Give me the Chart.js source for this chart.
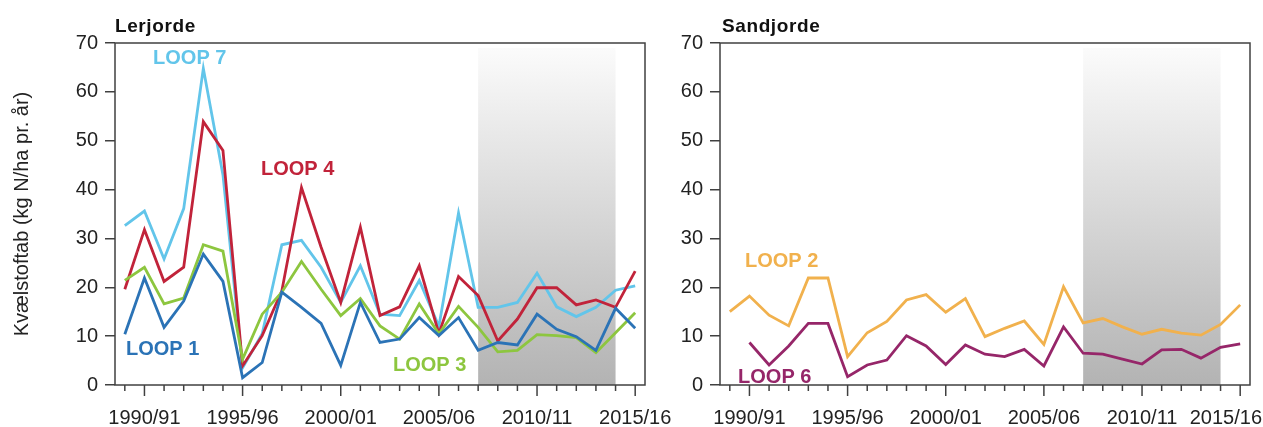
<!DOCTYPE html>
<html>
<head>
<meta charset="utf-8">
<script src="https://cdn.jsdelivr.net/npm/chart.js@4"></script>
<style>
  body { margin: 0; background: #fff; }
  #wrap { position: relative; width: 1263px; height: 427px; }
  canvas { position: absolute; top: 0; }
</style>
</head>
<body>
<div id="wrap">
  <canvas id="lerChart" width="675" height="427" style="left:0"></canvas>
  <canvas id="sandChart" width="588" height="427" style="left:675px"></canvas>
</div>
<script>
const seasons = [
    "1989/90", "1990/91", "1991/92", "1992/93", "1993/94", "1994/95", "1995/96",
    "1996/97", "1997/98", "1998/99", "1999/00", "2000/01", "2001/02", "2002/03",
    "2003/04", "2004/05", "2005/06", "2006/07", "2007/08", "2008/09", "2009/10",
    "2010/11", "2011/12", "2012/13", "2013/14", "2014/15", "2015/16"
];
const shownSeasons = ["1990/91", "1995/96", "2000/01", "2005/06", "2010/11", "2015/16"];
const yTicks = [0, 10, 20, 30, 40, 50, 60, 70];

// Lerjorde
const loop1 = [10.4, 21.9, 11.8, 17.2, 26.8, 21.2, 1.5, 4.6, 19.0, 15.9, 12.6, 4.0, 16.9, 8.7, 9.4, 13.8, 10.1, 13.8, 7.1, 8.7, 8.2, 14.5, 11.4, 9.9, 7.1, 15.7, 11.6];
const loop3 = [21.4, 24.1, 16.6, 17.8, 28.7, 27.4, 5.3, 14.5, 19.0, 25.3, 19.6, 14.2, 17.7, 12.1, 9.4, 16.6, 10.5, 16.1, 11.8, 6.8, 7.1, 10.3, 10.1, 9.7, 6.6, 10.7, 14.8];
const loop4 = [19.6, 31.8, 21.2, 24.1, 53.9, 48.0, 3.9, 10.1, 19.3, 40.4, 28.2, 16.9, 32.3, 14.2, 16.0, 24.4, 10.5, 22.2, 18.3, 9.0, 13.5, 19.9, 19.9, 16.4, 17.4, 15.9, 23.3];
const loop7 = [32.6, 35.6, 25.8, 36.1, 64.8, 43.0, 3.5, 10.5, 28.7, 29.6, 24.1, 16.9, 24.4, 14.5, 14.2, 21.4, 12.0, 35.2, 15.9, 15.9, 16.9, 22.9, 16.0, 14.0, 15.9, 19.4, 20.3];

// Sandjorde
const loop2 = [15.0, 18.2, 14.3, 12.1, 21.9, 21.9, 5.8, 10.7, 13.0, 17.4, 18.5, 14.9, 17.7, 9.9, 11.6, 13.1, 8.3, 20.1, 12.7, 13.6, 11.9, 10.4, 11.4, 10.6, 10.2, 12.4, 16.4];
const loop6 = [null, 8.7, 4.1, 8.0, 12.6, 12.6, 1.7, 4.1, 5.1, 10.1, 8.0, 4.2, 8.2, 6.3, 5.8, 7.3, 3.9, 11.9, 6.5, 6.3, 5.3, 4.3, 7.2, 7.3, 5.5, 7.7, 8.4];

// shaded period
const bandFrom = "2007/08";
const bandTo = "2014/15";

const FONT = "'Liberation Sans', Arial, sans-serif";
const FRAME = "#404040";
const TEXT = "#222";

function line(label, data, color) {
    return {
        label: label,
        data: data,
        borderColor: color,
        borderWidth: 2.8,
        pointRadius: 0,
        tension: 0,
        fill: false,
        spanGaps: false,
    };
}

const panelPlugin = {
    id: "panel",
    beforeDatasetsDraw(chart, args, opts) {
        const { ctx, chartArea, scales } = chart;
        const x0 = scales.x.getPixelForValue(seasons.indexOf(bandFrom));
        const x1 = scales.x.getPixelForValue(seasons.indexOf(bandTo));
        const top = scales.y.getPixelForValue(69);
        const g = ctx.createLinearGradient(0, top, 0, chartArea.bottom);
        g.addColorStop(0, "#fbfbfb");
        g.addColorStop(1, "#b3b3b3");
        ctx.save();
        ctx.fillStyle = g;
        ctx.fillRect(x0, top, x1 - x0, chartArea.bottom - top);
        ctx.restore();
    },
    afterDatasetsDraw(chart, args, opts) {
        const { ctx, chartArea, scales } = chart;
        ctx.save();
        // frame
        ctx.strokeStyle = FRAME;
        ctx.lineWidth = 1.5;
        ctx.strokeRect(chartArea.left, chartArea.top, chartArea.right - chartArea.left, chartArea.bottom - chartArea.top);

        // x tick marks and labels (last label is kept inside the canvas)
        ctx.font = "20px " + FONT;
        ctx.fillStyle = TEXT;
        ctx.textAlign = "center";
        ctx.textBaseline = "alphabetic";
        seasons.forEach((s, i) => {
            const x = scales.x.getPixelForValue(i);
            const major = shownSeasons.includes(s);
            ctx.beginPath();
            ctx.moveTo(x, chartArea.bottom);
            ctx.lineTo(x, chartArea.bottom + (major ? 11 : 6));
            ctx.stroke();
            if (major) {
                const w = ctx.measureText(s).width;
                const cx = Math.min(x, chart.width - 1 - w / 2);
                ctx.fillText(s, cx, chartArea.bottom + 39);
            }
        });

        // series names
        ctx.font = "bold 20px " + FONT;
        ctx.textAlign = "left";
        ctx.textBaseline = "middle";
        opts.names.forEach((n) => {
            ctx.fillStyle = n.color;
            ctx.fillText(n.text, scales.x.getPixelForValue(n.at[0]), scales.y.getPixelForValue(n.at[1]));
        });

        // panel title
        ctx.fillStyle = "#111";
        ctx.font = "bold 19px " + FONT;
        ctx.letterSpacing = "0.6px";
        ctx.textBaseline = "alphabetic";
        ctx.fillText(opts.title, chartArea.left + opts.titleShift, 32);
        ctx.restore();
    },
};

function makeChart(id, datasets, title, names, yWidth, yTitle, padRight, titleShift) {
    const ctx = document.getElementById(id).getContext("2d");
    return new Chart(ctx, {
        type: "line",
        data: { labels: seasons, datasets: datasets },
        plugins: [panelPlugin],
        options: {
            responsive: false,
            animation: false,
            layout: { padding: { top: 43, right: padRight, bottom: 0, left: 0 } },
            plugins: {
                legend: { display: false },
                tooltip: { enabled: false },
                panel: { title: title, names: names, titleShift: titleShift },
            },
            scales: {
                x: {
                    type: "category",
                    offset: true,
                    grid: { display: false, drawTicks: false },
                    border: { display: false },
                    ticks: { display: false },
                    afterFit(scale) {
                        scale.height = 42;
                        scale.paddingLeft = 0;
                        scale.paddingRight = 0;
                    },
                },
                y: {
                    min: 0,
                    max: 70,
                    afterBuildTicks(scale) {
                        scale.ticks = yTicks.map((v) => ({ value: v }));
                    },
                    grid: { drawOnChartArea: false, drawTicks: true, tickLength: 10, color: FRAME, lineWidth: 1.5 },
                    border: { display: false },
                    ticks: { padding: 7, color: TEXT, font: { family: FONT, size: 20 } },
                    title: {
                        display: !!yTitle,
                        text: yTitle,
                        color: TEXT,
                        font: { family: FONT, size: 20 },
                        padding: { top: 10, bottom: 0 },
                    },
                    afterFit(scale) {
                        scale.width = yWidth;
                        scale.paddingTop = 0;
                        scale.paddingBottom = 0;
                    },
                },
            },
        },
    });
}

makeChart(
    "lerChart",
    [
        line("LOOP 1", loop1, "#2b73b6"),
        line("LOOP 3", loop3, "#8dc63f"),
        line("LOOP 4", loop4, "#c1233a"),
        line("LOOP 7", loop7, "#62c5ea"),
    ],
    "Lerjorde",
    [
        { text: "LOOP 7", color: "#62c5ea", at: [1.44, 66.9] },
        { text: "LOOP 4", color: "#c1233a", at: [6.94, 44.2] },
        { text: "LOOP 1", color: "#2b73b6", at: [0.06, 7.2] },
        { text: "LOOP 3", color: "#8dc63f", at: [13.66, 3.9] },
    ],
    115,
    "Kvælstoftab (kg N/ha pr. år)",
    30,
    0
);

makeChart(
    "sandChart",
    [
        line("LOOP 6", loop6, "#962669"),
        line("LOOP 2", loop2, "#f1b14d"),
    ],
    "Sandjorde",
    [
        { text: "LOOP 2", color: "#f1b14d", at: [0.77, 25.2] },
        { text: "LOOP 6", color: "#962669", at: [0.42, 1.6] },
    ],
    45,
    "",
    13,
    2
);
</script>
</body>
</html>
